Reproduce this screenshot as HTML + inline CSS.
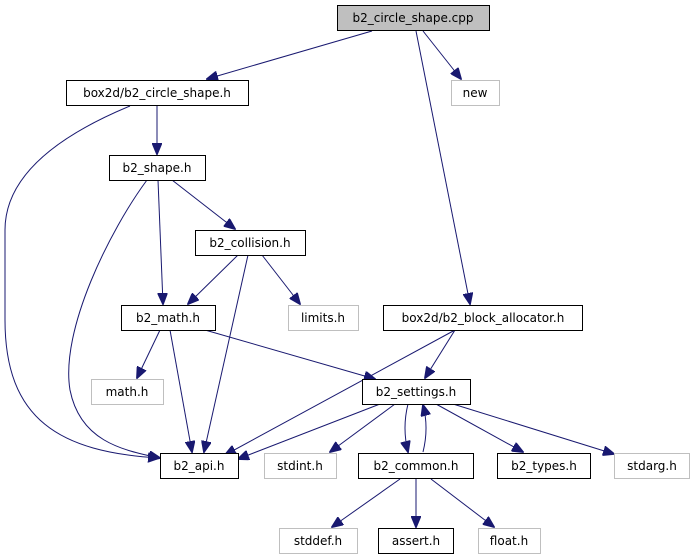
<!DOCTYPE html>
<html><head><meta charset="utf-8"><style>
html,body{margin:0;padding:0;background:#fff;width:695px;height:560px;overflow:hidden}
text{font-family:"DejaVu Sans","Liberation Sans",sans-serif;font-size:12px;text-anchor:middle;fill:#000}
.n{fill:#fff;stroke:#000;stroke-width:1}
.g{fill:#fff;stroke:#bfbfbf;stroke-width:1}
.e{fill:none;stroke:#191970;stroke-width:1}
</style></head><body>
<svg width="695" height="560" viewBox="0 0 695 560" xmlns="http://www.w3.org/2000/svg">
<defs><marker id="a" markerWidth="12" markerHeight="10" refX="11" refY="5" orient="auto" markerUnits="userSpaceOnUse"><path d="M0,0 L12,5 L0,10 z" fill="#191970" stroke="#191970"/></marker></defs>
<g class="e" marker-end="url(#a)">
<path d="M372,31 L207,79"/>
<path d="M423,31 L461,79"/>
<path d="M416,31 L470,304"/>
<path d="M130,106 C60,135 5,175 5,230 L5,320 C5,420 60,452 159,458"/>
<path d="M157,106 L157,154"/>
<path d="M147,180 C110,230 60,330 70,390 C80,440 120,450 160,458"/>
<path d="M158,180 L163,304"/>
<path d="M172,180 L235,229"/>
<path d="M238,255 L188,304"/>
<path d="M248,255 L204,452"/>
<path d="M262,255 L300,304"/>
<path d="M160,330 L137,378"/>
<path d="M170,330 L192,452"/>
<path d="M205,330 L375,379"/>
<path d="M455,330 L425,378"/>
<path d="M455,330 L225,455"/>
<path d="M380,404 L238,459"/>
<path d="M395,404 L330,452"/>
<path d="M408,404 C404,420 404,436 408,452"/>
<path d="M423,452 C427,436 427,420 423,405"/>
<path d="M436,404 L523,452"/>
<path d="M453,404 L614,454"/>
<path d="M400,479 L332,527"/>
<path d="M416,479 L416,527"/>
<path d="M431,479 L494,527"/>
</g>
<rect class="n" x="337.5" y="5.5" width="152" height="25" style="fill:#bfbfbf"/><text x="413" y="22">b2_circle_shape.cpp</text>
<rect class="n" x="66.5" y="80.5" width="182" height="25"/><text x="157" y="97">box2d/b2_circle_shape.h</text>
<rect class="g" x="451.5" y="80.5" width="48" height="25"/><text x="475" y="97">new</text>
<rect class="n" x="109.5" y="155.5" width="96" height="25"/><text x="157" y="172">b2_shape.h</text>
<rect class="n" x="195.5" y="230.5" width="110" height="25"/><text x="250" y="247">b2_collision.h</text>
<rect class="n" x="121.5" y="305.5" width="94" height="25"/><text x="168" y="322">b2_math.h</text>
<rect class="g" x="288.5" y="305.5" width="70" height="25"/><text x="323" y="322">limits.h</text>
<rect class="n" x="383.5" y="305.5" width="199" height="25"/><text x="483" y="322">box2d/b2_block_allocator.h</text>
<rect class="g" x="91.5" y="379.5" width="72" height="25"/><text x="127" y="396">math.h</text>
<rect class="n" x="362.5" y="379.5" width="108" height="25"/><text x="416" y="396">b2_settings.h</text>
<rect class="n" x="160.5" y="453.5" width="78" height="25"/><text x="199" y="470">b2_api.h</text>
<rect class="g" x="264.5" y="453.5" width="72" height="25"/><text x="300" y="470">stdint.h</text>
<rect class="n" x="358.5" y="453.5" width="115" height="25"/><text x="416" y="470">b2_common.h</text>
<rect class="n" x="497.5" y="453.5" width="93" height="25"/><text x="544" y="470">b2_types.h</text>
<rect class="g" x="614.5" y="453.5" width="75" height="25"/><text x="652" y="470">stdarg.h</text>
<rect class="g" x="279.5" y="528.5" width="78" height="25"/><text x="318" y="545">stddef.h</text>
<rect class="n" x="378.5" y="528.5" width="75" height="25"/><text x="416" y="545">assert.h</text>
<rect class="g" x="478.5" y="528.5" width="62" height="25"/><text x="509" y="545">float.h</text>
</svg>
</body></html>
